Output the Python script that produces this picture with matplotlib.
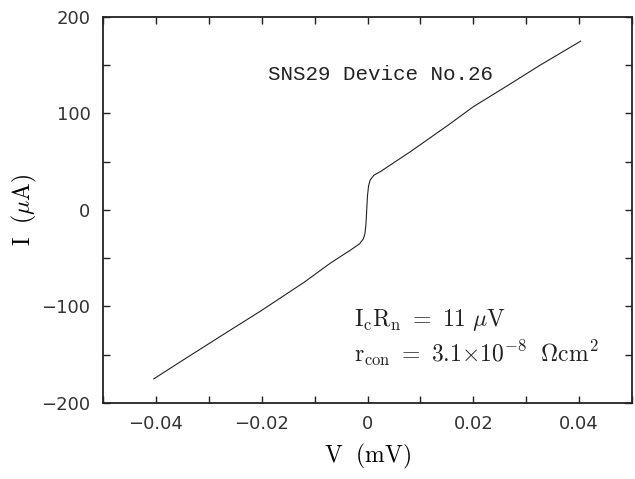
import matplotlib
matplotlib.use("Agg")
import matplotlib.pyplot as plt
from matplotlib.ticker import MultipleLocator

# I-V curve of the junction, voltage in mV, current in uA
volts = [-0.0404, -0.035, -0.028, -0.0202, -0.012, -0.007, -0.0032, -0.0015,
         -0.0008, -0.0005, -0.0003, -0.0002, -0.0001, 0.0, 0.0002, 0.0005,
         0.0012, 0.0025, 0.0081, 0.015, 0.02, 0.0265, 0.0326, 0.0403]
current = [-175, -156, -131.6, -104.7, -75, -55, -41.5, -35,
           -30, -25, -15, -5, 5, 15, 25, 31,
           36, 40, 60.4, 87, 107, 129, 150, 175]

x_ticks = [-0.04, -0.02, 0, 0.02, 0.04]
x_tick_labels = ["\u22120.04", "\u22120.02", "0", "0.02", "0.04"]
y_ticks = [-200, -100, 0, 100, 200]
y_tick_labels = ["\u2212200", "\u2212100", "0", "100", "200"]

plt.rcParams["mathtext.fontset"] = "cm"

fig = plt.figure(figsize=(6.35, 4.79), dpi=100)
ax = fig.add_axes([0.1622, 0.1587, 0.8331, 0.8058])

ax.plot(volts, current, color="#222222", lw=0.8)

ax.set_xlim(-0.05, 0.05)
ax.set_ylim(-200, 200)
ax.set_xticks(x_ticks)
ax.set_xticklabels(x_tick_labels)
ax.set_yticks(y_ticks)
ax.set_yticklabels(y_tick_labels)
ax.xaxis.set_minor_locator(MultipleLocator(0.01))
ax.yaxis.set_minor_locator(MultipleLocator(50))

ax.tick_params(which="both", direction="in", top=True, right=True,
               length=5, width=1.0, color="#222222")
ax.tick_params(which="major", labelsize=13, labelcolor="#333333", pad=9)
for s in ax.spines.values():
    s.set_linewidth(1.3)
    s.set_color("#222222")

ax.set_xlabel(r"$\mathrm{V\ \ (mV)}$", fontsize=17, labelpad=6)
ax.set_ylabel(r"$\mathrm{I\ \ (}\mu\mathrm{A)}$", fontsize=17, labelpad=2)

ax.text(0.311, 0.852, "SNS29 Device No.26", transform=ax.transAxes,
        family="Liberation Mono", fontsize=15, color="#222222", va="center")
ax.text(0.474, 0.215, r"$\mathrm{I_cR_n\ =\ 11\ }\mu\mathrm{V}$",
        transform=ax.transAxes, fontsize=17, color="#222222", va="center")
ax.text(0.474, 0.13,
        r"$\mathrm{r_{con}\ =\ 3.1{\times}10^{-8}\ \ \Omega cm^2}$",
        transform=ax.transAxes, fontsize=17, color="#222222", va="center")

fig.savefig("out.png", dpi=100)
